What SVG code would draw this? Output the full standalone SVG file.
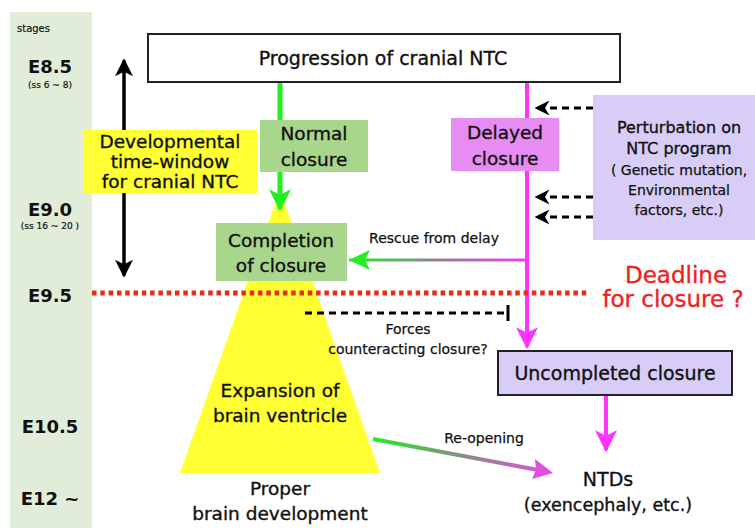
<svg xmlns="http://www.w3.org/2000/svg" width="755" height="528" viewBox="0 0 755 528">
<defs>
<style>
text{font-family:"DejaVu Sans","Liberation Sans",sans-serif;fill:#111;stroke:#111;stroke-width:0.35px;}
.lbl{font-size:18.5px;text-anchor:middle;}
.sm{font-size:14px;text-anchor:middle;stroke-width:0.25px;}
.stg{font-size:18px;font-weight:bold;text-anchor:middle;stroke-width:0;}
.ss{font-size:9px;text-anchor:middle;stroke-width:0.2px;}
.red{font-size:23px;fill:#ee2222;stroke:#ee2222;text-anchor:middle;}
.dash{stroke:#000;stroke-width:3;stroke-dasharray:7 5;fill:none;}
</style>
<linearGradient id="gRescue" x1="527" y1="0" x2="350" y2="0" gradientUnits="userSpaceOnUse">
<stop offset="0" stop-color="#f03cf0"/><stop offset="0.55" stop-color="#8a8a8a"/><stop offset="1" stop-color="#22ee22"/>
</linearGradient>
<linearGradient id="gReopen" x1="373" y1="439" x2="553" y2="473" gradientUnits="userSpaceOnUse">
<stop offset="0" stop-color="#22ee22"/><stop offset="0.5" stop-color="#8a8a8a"/><stop offset="1" stop-color="#e050e0"/>
</linearGradient>
<marker id="mGreen" viewBox="0 0 20 20" refX="18" refY="10" markerWidth="22" markerHeight="22" markerUnits="userSpaceOnUse" orient="auto"><path d="M0,0 L20,10 L0,20 L5,10 Z" fill="#22ee22"/></marker>
<marker id="mMag" viewBox="0 0 20 20" refX="18" refY="10" markerWidth="22" markerHeight="22" markerUnits="userSpaceOnUse" orient="auto"><path d="M0,0 L20,10 L0,20 L5,10 Z" fill="#ff33ff"/></marker>
<marker id="mBlk" viewBox="0 0 20 20" refX="18" refY="10" markerWidth="18" markerHeight="18" markerUnits="userSpaceOnUse" orient="auto"><path d="M0,0 L20,10 L0,20 L5,10 Z" fill="#000"/></marker>
<marker id="mBlkS" viewBox="0 0 20 20" refX="18" refY="10" markerWidth="15" markerHeight="15" markerUnits="userSpaceOnUse" orient="auto"><path d="M0,0 L20,10 L0,20 L6,10 Z" fill="#000"/></marker>
</defs>
<rect width="755" height="528" fill="#fff"/>

<g id="stages">
<rect x="10" y="12" width="82" height="516" fill="#e2edd9"/>
<text x="17" y="32" style="font-size:10px;stroke-width:0.2px">stages</text>
<text class="stg" x="50" y="73">E8.5</text>
<text class="ss" x="50" y="88">(ss 6 ~ 8)</text>
<text class="stg" x="50" y="216">E9.0</text>
<text class="ss" x="50" y="229">(ss 16 ~ 20 )</text>
<text class="stg" x="50" y="302">E9.5</text>
<text class="stg" x="50" y="433">E10.5</text>
<text class="stg" x="50" y="505">E12 ~</text>
</g>

<g id="expansion">
<polygon points="280,190 180,473 380,473" fill="#ffff33"/>
<text class="lbl" x="280" y="397">Expansion of</text>
<text class="lbl" x="280" y="422">brain ventricle</text>
</g>

<g id="proper">
<text class="lbl" x="280" y="495">Proper</text>
<text class="lbl" x="280" y="520">brain development</text>
</g>

<g id="connectors">
<line x1="124" y1="272" x2="124" y2="60" stroke="#000" stroke-width="3" marker-end="url(#mBlk)"/>
<line x1="124" y1="70" x2="124" y2="276" stroke="#000" stroke-width="3" marker-end="url(#mBlk)"/>
<line x1="280" y1="82" x2="280" y2="209" stroke="#22ee22" stroke-width="5" marker-end="url(#mGreen)"/>
<line x1="527" y1="82" x2="527" y2="347" stroke="#ff33ff" stroke-width="4" marker-end="url(#mMag)"/>
<line x1="527" y1="260" x2="349" y2="260" stroke="url(#gRescue)" stroke-width="3"/>
<path d="M349,260 L370,250 L365,260 L370,270 Z" fill="#22ee22"/>
<line x1="606" y1="395" x2="606" y2="450" stroke="#ff33ff" stroke-width="4" marker-end="url(#mMag)"/>
<line x1="373" y1="439" x2="538" y2="470" stroke="url(#gReopen)" stroke-width="4"/>
<path d="M553,473 L532,479 L536,470 L535,459 Z" fill="#e050e0"/>
<line class="dash" x1="593" y1="108" x2="536" y2="108" marker-end="url(#mBlkS)"/>
<line class="dash" x1="593" y1="197" x2="536" y2="197" marker-end="url(#mBlkS)"/>
<line class="dash" x1="593" y1="217" x2="536" y2="217" marker-end="url(#mBlkS)"/>
<line class="dash" x1="305" y1="313" x2="506" y2="313"/>
<line x1="508" y1="305" x2="508" y2="321" stroke="#000" stroke-width="3"/>
<line x1="92" y1="293" x2="588" y2="293" stroke="#e82a1a" stroke-width="5" stroke-dasharray="4.5 3.8"/>
<text class="sm" x="434" y="243">Rescue from delay</text>
<text class="sm" x="408" y="334">Forces</text>
<text class="sm" x="408" y="354">counteracting closure?</text>
<text class="sm" x="484" y="443">Re-opening</text>
</g>

<g id="progression">
<rect x="148" y="34" width="472" height="48" fill="#fff" stroke="#222" stroke-width="2"/>
<text class="lbl" x="383" y="65" style="font-size:19px">Progression of cranial NTC</text>
</g>

<g id="window">
<rect x="84" y="130" width="173" height="63" fill="#ffff33"/>
<text class="lbl" x="170" y="148">Developmental</text>
<text class="lbl" x="170" y="168">time-window</text>
<text class="lbl" x="170" y="188">for cranial NTC</text>
</g>

<g id="normal">
<rect x="260" y="120" width="108" height="52" fill="#a8d68c"/>
<text class="lbl" x="314" y="140">Normal</text>
<text class="lbl" x="314" y="166">closure</text>
</g>

<g id="completion">
<rect x="216" y="223" width="131" height="58" fill="#a8d68c"/>
<text class="lbl" x="281" y="247">Completion</text>
<text class="lbl" x="281" y="272">of closure</text>
</g>

<g id="delayed">
<rect x="451" y="118" width="108" height="53" fill="#e68cf2"/>
<text class="lbl" x="505" y="139">Delayed</text>
<text class="lbl" x="505" y="165">closure</text>
</g>

<g id="perturbation">
<rect x="593" y="95" width="162" height="145" fill="#d7cdf7"/>
<text class="lbl" x="679" y="133" style="font-size:16px">Perturbation on</text>
<text class="lbl" x="679" y="154" style="font-size:16px">NTC program</text>
<text class="sm" x="679" y="175">( Genetic mutation,</text>
<text class="sm" x="679" y="195">Environmental</text>
<text class="sm" x="679" y="215">factors, etc.)</text>
</g>

<g id="deadline">
<text class="red" x="676" y="283">Deadline</text>
<text class="red" x="673" y="307">for closure ?</text>
</g>

<g id="uncompleted">
<rect x="498" y="351" width="234" height="44" fill="#d7cdf7" stroke="#222" stroke-width="2"/>
<text class="lbl" x="615" y="380" style="font-size:19px">Uncompleted closure</text>
</g>

<g id="ntds">
<text class="lbl" x="608" y="486" style="font-size:19px">NTDs</text>
<text class="lbl" x="608" y="511" style="font-size:17.5px">(exencephaly, etc.)</text>
</g>
</svg>
